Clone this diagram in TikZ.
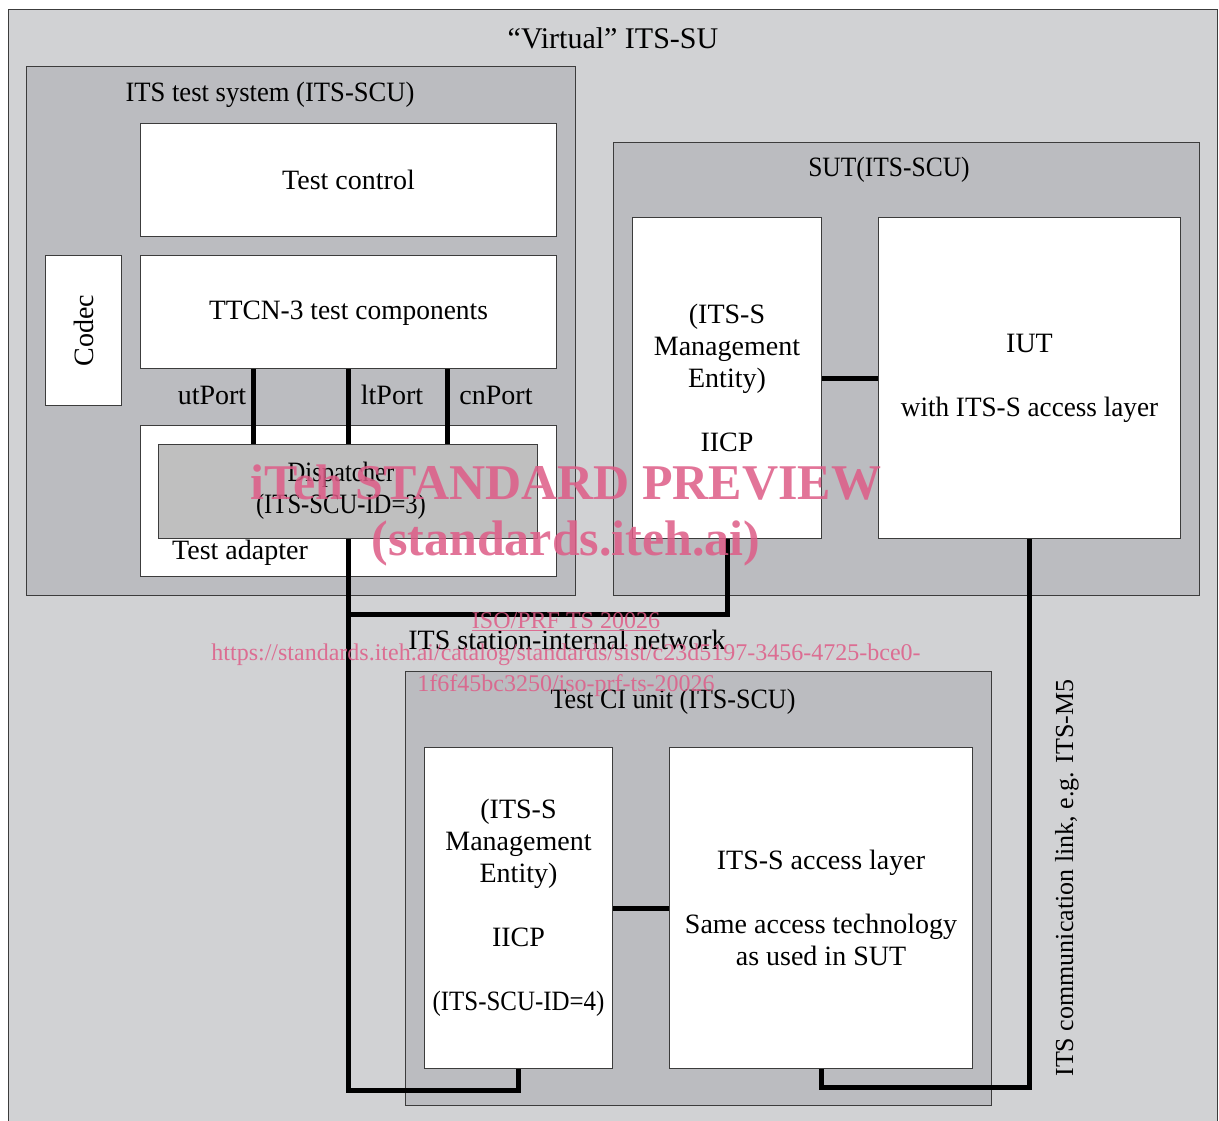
\documentclass[tikz,border=0pt]{standalone}
\usepackage{fontspec}
\usepackage{graphicx}
\setmainfont{Liberation Serif}
\usetikzlibrary{positioning}
\definecolor{outerfill}{RGB}{209,210,212}
\definecolor{innerfill}{RGB}{187,188,192}
\definecolor{dispfill}{RGB}{191,191,191}
\definecolor{edgecol}{RGB}{60,60,60}
\definecolor{wmcol}{RGB}{222,92,135}
\newcommand{\hsq}[2]{\scalebox{#1}[1]{#2}}
\begin{document}
\begin{tikzpicture}[x=1pt,y=-1pt,
  txt/.style={font=\fontsize{28}{32}\selectfont, inner sep=0pt, align=center},
  frame/.style={draw=edgecol, line width=1pt, anchor=north west, inner sep=0pt},
  grayframe/.style={frame, fill=innerfill},
  whitebox/.style={frame, fill=white, txt},
  link/.style={draw=black, line width=5pt},
  wmark/.style={text=wmcol, opacity=0.85, inner sep=0pt, align=center}]
\useasboundingbox (0,0) rectangle (1219,1120);
\clip (0,0) rectangle (1219,1120);
% outer virtual box
\node[frame, fill=outerfill, minimum width=1209pt, minimum height=1130pt] (virt) at (8,9) {};
\node[txt, font=\fontsize{30}{34}\selectfont] (virtlbl) at (613,38) {“Virtual” ITS-SU};
% ITS test system
\node[grayframe, minimum width=549pt, minimum height=529pt] (tsys) at (26,66) {};
\node[txt] (tsyslbl) at (270,95) {\hsq{0.95}{ITS test system (ITS-SCU)}};
\node[whitebox, minimum width=416pt, minimum height=113pt] (tctrl) at (140,123) {};
\node[txt] at (tctrl.center) {Test control};
\node[whitebox, minimum width=76pt, minimum height=150pt] (codec) at (45,255) {};
\node[txt, rotate=90] at (codec.center) {Codec};
\node[whitebox, minimum width=416pt, minimum height=113pt] (ttcn) at (140,255) {};
\node[txt] at ([yshift=-1pt]ttcn.center) {\hsq{0.98}{TTCN-3 test components}};
\node[whitebox, minimum width=416pt, minimum height=151pt] (tadapt) at (140,425) {};
\node[frame, fill=dispfill, minimum width=379pt, minimum height=94pt] (disp) at (158,444) {};
\node[txt] (displbl) at (341,491) {\hsq{0.88}{Dispatcher}\\\hsq{0.88}{(ITS-SCU-ID=3)}};
\node[txt] (talbl) at (240,553) {Test adapter};
\node[txt] (utlbl) at (212,395) {utPort};
\node[txt] (ltlbl) at (392,395) {ltPort};
\node[txt] (cnlbl) at (496,395) {cnPort};
\draw[link] ([xshift=113pt]ttcn.south west) -- ([xshift=95pt]disp.north west);
\draw[link] ([xshift=208pt]ttcn.south west) -- ([xshift=190pt]disp.north west);
\draw[link] ([xshift=307pt]ttcn.south west) -- ([xshift=289pt]disp.north west);
% SUT
\node[grayframe, minimum width=586pt, minimum height=453pt] (sut) at (613,142) {};
\node[txt] (sutlbl) at (889,170) {\hsq{0.91}{SUT(ITS-SCU)}};
\node[whitebox, minimum width=189pt, minimum height=321pt] (sutmg) at (632,217) {(ITS-S\\Management\\Entity)\\[32pt]IICP};
\node[whitebox, minimum width=302pt, minimum height=321pt] (iut) at (878,217) {IUT\\[32pt]\hsq{0.97}{with ITS-S access layer}};
\draw[link] (sutmg.east) -- (iut.west);
% Test CI unit
\node[grayframe, minimum width=586pt, minimum height=434pt] (ciu) at (405,671) {};
\node[txt] (ciulbl) at (673,702) {\hsq{0.93}{Test CI unit (ITS-SCU)}};
\node[whitebox, minimum width=188pt, minimum height=321pt] (cimg) at (424,747) {(ITS-S\\Management\\Entity)\\[32pt]IICP\\[32pt]\hsq{0.89}{(ITS-SCU-ID=4)}};
\node[whitebox, minimum width=303pt, minimum height=321pt] (ciacc) at (669,747) {ITS-S access layer\\[32pt]Same access technology\\as used in SUT};
\draw[link] (cimg.east) -- (ciacc.west);
% network links
\node[txt] (netlbl) at (567,640) {ITS station-internal network};
\draw[link] (disp.south) -- (disp.south |- 0,1090) -| (cimg.south);
\draw[link] (disp.south |- 0,614) -| (sutmg.south);
\draw[link] (iut.south) -- (iut.south |- 0,1087) -| (ciacc.south);
\node[txt, font=\fontsize{26}{30}\selectfont, rotate=90] (commlbl) at (1067,878) {ITS communication link, e.g. ITS-M5};
% watermark
\node[wmark, font=\bfseries\fontsize{50}{60}\selectfont] (wm1) at (566,483) {iTeh STANDARD PREVIEW};
\node[wmark, font=\bfseries\fontsize{50}{60}\selectfont] (wm2) at (566,543) {(standards.iteh.ai)};
\node[wmark, font=\fontsize{24}{30}\selectfont] (wm3) at (566,622) {\underline{ISO/PRF TS 20026}};
\node[wmark, font=\fontsize{24}{31}\selectfont] (wm4) at (566,670) {https://standards.iteh.ai/catalog/standards/sist/c23d5197-3456-4725-bce0-\\1f6f45bc3250/iso-prf-ts-20026};
\end{tikzpicture}
\end{document}
